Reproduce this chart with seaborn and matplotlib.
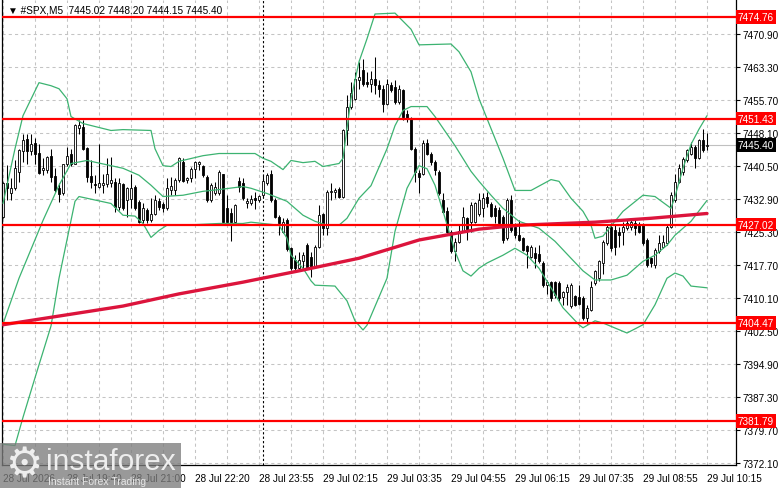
import numpy as np
import pandas as pd
import matplotlib
matplotlib.use('Agg')
import matplotlib.pyplot as plt
import matplotlib.transforms as mtransforms
from matplotlib.patches import Rectangle
import seaborn as sns

# =========================================
# Data (#SPX, M5)
# =========================================
opens = [7428.7, 7436.5, 7434.2, 7435.4, 7439.2, 7443.9, 7446.7, 7443.9, 7445.9, 7443.6,
         7439.5, 7439.6, 7442.9, 7438.3, 7435.5, 7434.2, 7441.1, 7443.4, 7441.1, 7449.3,
         7449.5, 7444.7, 7438.3, 7436.4, 7435.8, 7436.1, 7436.3, 7436.5, 7436.9, 7431.2,
         7436.3, 7432.7, 7432.9, 7435.8, 7432.2, 7428.1, 7430.4, 7428.1, 7429.4, 7432.5,
         7431.7, 7430.8, 7434.9, 7435.0, 7437.3, 7441.5, 7437.3, 7437.7, 7439.8, 7441.1,
         7440.6, 7438.0, 7432.7, 7434.2, 7434.2, 7438.6, 7430.8, 7429.6, 7427.7, 7437.0,
         7436.5, 7432.0, 7432.1, 7433.1, 7432.7, 7433.8, 7436.5, 7438.6, 7432.8, 7428.9,
         7425.4, 7428.1, 7421.6, 7419.0, 7417.0, 7418.6, 7422.4, 7419.7, 7417.4, 7422.0,
         7429.4, 7426.2, 7434.5, 7434.6, 7435.2, 7433.5, 7448.7, 7454.1, 7456.0, 7460.4,
         7462.5, 7459.8, 7459.4, 7460.6, 7459.1, 7458.3, 7454.9, 7459.1, 7458.7, 7455.2,
         7457.9, 7452.6, 7451.4, 7444.5, 7439.0, 7438.6, 7445.9, 7443.4, 7441.5, 7439.2,
         7432.7, 7430.2, 7425.4, 7420.9, 7423.0, 7425.6, 7428.5, 7427.6, 7427.7, 7429.5,
         7430.8, 7433.3, 7431.7, 7430.8, 7430.4, 7428.9, 7423.9, 7432.7, 7426.6, 7424.7,
         7423.9, 7422.2, 7419.7, 7420.5, 7420.3, 7418.2, 7413.2, 7413.8, 7413.8, 7413.6,
         7410.3, 7411.5, 7408.3, 7410.5, 7410.3, 7410.2, 7405.6, 7407.5, 7413.6, 7414.7,
         7418.2, 7422.8, 7426.6, 7425.8, 7425.4, 7425.4, 7426.2, 7426.6, 7427.4, 7427.1,
         7427.0, 7423.5, 7419.3, 7417.8, 7420.9, 7422.0, 7422.8, 7426.6, 7432.7, 7436.9,
         7439.2, 7441.9, 7443.4, 7444.9, 7442.4, 7446.5, 7445.02]
highs = [7436.9, 7440.7, 7437.7, 7441.9, 7444.5, 7447.8, 7448.0, 7447.8, 7447.0, 7445.7,
         7442.4, 7442.9, 7444.5, 7440.0, 7436.5, 7441.1, 7444.9, 7444.4, 7450.3, 7451.0,
         7451.0, 7444.9, 7441.9, 7438.4, 7445.7, 7438.8, 7442.3, 7442.6, 7437.7, 7437.7,
         7436.5, 7435.8, 7438.8, 7436.1, 7432.7, 7431.9, 7430.8, 7433.1, 7433.8, 7433.1,
         7432.3, 7437.7, 7438.0, 7437.7, 7442.6, 7442.3, 7438.0, 7440.3, 7441.6, 7441.6,
         7440.7, 7438.4, 7436.5, 7436.9, 7439.6, 7438.8, 7433.8, 7430.8, 7431.7, 7438.0,
         7437.7, 7433.1, 7433.8, 7434.6, 7433.8, 7438.4, 7439.0, 7439.6, 7433.1, 7429.3,
         7428.5, 7428.5, 7422.0, 7420.1, 7420.8, 7420.8, 7422.8, 7420.8, 7422.4, 7431.6,
         7429.6, 7435.0, 7436.5, 7435.4, 7435.8, 7449.1, 7456.8, 7459.8, 7462.1, 7464.4,
         7465.2, 7462.1, 7462.3, 7465.5, 7460.2, 7459.1, 7460.6, 7459.8, 7460.2, 7459.1,
         7458.3, 7453.3, 7451.8, 7444.9, 7439.6, 7446.4, 7446.8, 7443.8, 7441.9, 7439.6,
         7434.2, 7431.2, 7425.8, 7423.9, 7426.9, 7431.2, 7428.9, 7432.3, 7432.3, 7434.2,
         7434.2, 7434.5, 7432.3, 7431.5, 7431.2, 7429.3, 7433.1, 7433.8, 7427.3, 7428.1,
         7424.3, 7422.4, 7422.4, 7422.0, 7422.4, 7418.6, 7414.4, 7414.0, 7414.0, 7414.0,
         7411.7, 7413.4, 7413.6, 7410.9, 7413.2, 7410.5, 7408.6, 7414.0, 7416.7, 7419.0,
         7423.5, 7427.0, 7427.4, 7427.0, 7426.6, 7427.7, 7428.1, 7428.1, 7428.5, 7427.7,
         7427.4, 7423.9, 7419.7, 7421.6, 7424.7, 7424.7, 7427.0, 7434.6, 7438.8, 7441.1,
         7442.6, 7444.5, 7446.1, 7445.3, 7446.8, 7449.1, 7448.20]
lows = [7428.5, 7432.7, 7432.7, 7435.0, 7436.9, 7441.5, 7441.1, 7443.0, 7441.1, 7438.8,
        7438.4, 7439.0, 7436.9, 7434.6, 7432.3, 7433.9, 7440.6, 7440.6, 7440.9, 7448.0,
        7444.2, 7436.9, 7435.4, 7434.2, 7435.4, 7434.2, 7435.8, 7435.8, 7430.0, 7430.4,
        7430.4, 7428.9, 7430.8, 7430.4, 7427.3, 7427.3, 7427.3, 7427.7, 7429.3, 7430.4,
        7430.0, 7430.4, 7433.8, 7433.8, 7436.9, 7436.9, 7436.5, 7436.9, 7437.7, 7439.6,
        7438.0, 7432.3, 7432.3, 7433.8, 7433.8, 7427.3, 7427.3, 7423.3, 7427.3, 7434.6,
        7432.7, 7430.8, 7431.5, 7430.6, 7432.3, 7433.5, 7436.1, 7432.3, 7428.5, 7424.7,
        7425.0, 7420.9, 7416.6, 7416.6, 7416.6, 7417.0, 7417.0, 7414.9, 7417.0, 7421.6,
        7424.7, 7424.7, 7432.7, 7433.1, 7433.1, 7433.1, 7445.3, 7453.7, 7455.6, 7458.3,
        7459.0, 7458.7, 7457.5, 7457.1, 7456.4, 7452.9, 7454.5, 7457.5, 7454.9, 7454.9,
        7451.0, 7450.6, 7444.2, 7436.9, 7434.2, 7438.4, 7443.0, 7440.7, 7438.4, 7433.8,
        7429.6, 7425.0, 7420.5, 7418.6, 7422.8, 7425.4, 7423.5, 7425.4, 7427.3, 7429.0,
        7428.9, 7431.2, 7428.9, 7427.3, 7427.0, 7422.8, 7423.5, 7425.4, 7423.9, 7423.2,
        7420.9, 7417.0, 7419.3, 7417.0, 7418.2, 7412.8, 7411.0, 7409.4, 7410.2, 7409.4,
        7408.6, 7408.6, 7407.9, 7408.3, 7408.6, 7405.2, 7404.1, 7407.1, 7413.2, 7414.0,
        7415.7, 7422.4, 7420.9, 7420.1, 7422.0, 7422.4, 7425.8, 7425.8, 7424.7, 7425.0,
        7422.4, 7417.4, 7417.4, 7417.0, 7420.5, 7421.6, 7422.4, 7426.2, 7432.3, 7436.5,
        7438.4, 7441.5, 7443.0, 7440.0, 7442.2, 7443.8, 7444.15]
closes = [7436.5, 7435.4, 7435.4, 7440.0, 7444.2, 7446.5, 7443.9, 7445.7, 7443.4, 7439.0,
          7440.1, 7442.6, 7438.1, 7435.0, 7434.0, 7440.9, 7442.9, 7440.9, 7449.9, 7449.9,
          7444.5, 7438.1, 7436.8, 7436.1, 7436.7, 7436.5, 7438.8, 7437.3, 7431.2, 7436.7,
          7430.8, 7435.4, 7435.5, 7430.8, 7427.7, 7430.8, 7428.1, 7429.4, 7432.7, 7431.2,
          7430.8, 7435.4, 7435.9, 7437.3, 7442.3, 7437.1, 7437.8, 7439.8, 7441.5, 7441.5,
          7438.4, 7432.7, 7436.1, 7435.8, 7439.2, 7427.7, 7427.7, 7427.7, 7431.5, 7435.7,
          7433.1, 7432.5, 7432.9, 7432.7, 7433.7, 7437.0, 7438.4, 7432.7, 7428.9, 7427.3,
          7427.6, 7421.5, 7417.0, 7417.0, 7419.0, 7420.1, 7417.4, 7417.4, 7422.0, 7429.3,
          7426.2, 7434.6, 7434.8, 7434.9, 7433.5, 7448.7, 7454.1, 7457.4, 7460.6, 7461.0,
          7459.4, 7459.4, 7460.6, 7459.1, 7458.3, 7454.9, 7459.4, 7457.9, 7455.2, 7458.3,
          7451.8, 7451.4, 7444.5, 7439.2, 7438.0, 7445.9, 7443.4, 7441.5, 7439.6, 7434.2,
          7430.0, 7425.4, 7420.9, 7423.0, 7425.6, 7428.9, 7425.8, 7431.5, 7432.1, 7432.8,
          7433.2, 7432.0, 7429.1, 7429.1, 7427.3, 7423.5, 7432.7, 7425.8, 7424.7, 7423.5,
          7421.2, 7421.0, 7422.0, 7419.3, 7418.6, 7413.1, 7413.8, 7410.2, 7410.9, 7410.2,
          7411.5, 7412.6, 7413.2, 7408.6, 7408.8, 7405.6, 7407.9, 7412.8, 7416.4, 7418.6,
          7423.1, 7426.6, 7421.6, 7422.0, 7424.7, 7426.6, 7427.4, 7427.7, 7426.2, 7425.4,
          7422.8, 7417.8, 7418.2, 7421.2, 7422.8, 7423.1, 7426.6, 7433.8, 7436.9, 7440.0,
          7442.2, 7444.2, 7444.9, 7442.4, 7446.5, 7444.2, 7445.40]

# Bollinger bands at a set of bars
upper_idx = [0, 3, 5, 9, 12, 14, 16, 17, 20, 27, 30, 37, 38, 40, 42, 44, 50, 54, 60, 63,
             65, 67, 70, 72, 75, 78, 80, 84, 85, 87, 89, 91, 93, 98, 102, 104, 112, 114,
             117, 119, 125, 128, 132, 137, 139, 142, 145, 147, 148, 150, 155, 160, 163,
             167, 168, 170, 172, 174, 176]
upper_val = [7431.9, 7444.5, 7452.1, 7459.7, 7459.0, 7458.3, 7456.0, 7451.9, 7450.3, 7448.7,
             7448.9, 7448.7, 7444.5, 7440.6, 7440.4, 7441.6, 7442.9, 7443.4, 7443.4, 7443.4,
             7442.3, 7441.6, 7439.7, 7441.8, 7441.3, 7441.6, 7440.4, 7441.1, 7442.3, 7456.0,
             7464.5, 7469.8, 7475.5, 7475.7, 7472.0, 7468.4, 7468.6, 7466.8, 7462.2, 7456.0,
             7442.3, 7434.9, 7434.9, 7437.4, 7437.0, 7433.1, 7430.1, 7426.9, 7423.9, 7424.4,
             7430.1, 7433.8, 7433.5, 7430.8, 7433.5, 7440.0, 7445.5, 7449.0, 7452.1]
middle_idx = [0, 4, 10, 14, 17, 21, 27, 30, 34, 37, 40, 45, 50, 54, 60, 62, 66, 71, 75, 78,
              81, 84, 86, 89, 92, 96, 98, 100, 102, 106, 108, 113, 117, 119, 122, 125, 129,
              134, 138, 142, 145, 148, 152, 156, 160, 163, 166, 168, 172, 176]
middle_val = [7404.2, 7414.7, 7428.0, 7436.1, 7441.1, 7441.8, 7440.6, 7440.0, 7438.4, 7436.1,
              7433.5, 7433.8, 7434.7, 7435.1, 7435.8, 7435.4, 7434.2, 7432.4, 7429.2, 7427.8,
              7426.9, 7426.9, 7428.5, 7433.1, 7436.0, 7444.5, 7449.8, 7453.3, 7454.2, 7454.2,
              7451.9, 7445.2, 7439.3, 7437.0, 7433.8, 7430.8, 7427.8, 7426.2, 7423.2, 7419.3,
              7416.4, 7414.3, 7414.3, 7415.4, 7418.6, 7420.0, 7422.3, 7424.6, 7427.8, 7432.6]
lower_idx = [0, 3, 5, 8, 12, 14, 18, 19, 27, 30, 33, 35, 37, 39, 41, 45, 54, 60, 62, 69,
             71, 72, 75, 77, 78, 83, 86, 88, 90, 91, 96, 98, 101, 104, 106, 108, 110, 113,
             115, 117, 119, 121, 125, 128, 131, 134, 137, 140, 144, 145, 148, 150, 156,
             160, 163, 166, 168, 170, 172, 176]
lower_val = [7376.5, 7376.2, 7382.7, 7391.8, 7403.7, 7414.7, 7432.4, 7433.5, 7431.9, 7429.2,
             7429.0, 7427.3, 7424.1, 7425.7, 7426.9, 7426.9, 7427.3, 7427.3, 7427.6, 7426.9,
             7423.9, 7420.0, 7417.0, 7414.1, 7413.1, 7412.9, 7409.5, 7404.9, 7402.8, 7403.9,
             7414.7, 7425.5, 7435.4, 7440.6, 7439.9, 7436.1, 7430.1, 7420.9, 7416.4, 7415.2,
             7417.0, 7418.2, 7420.0, 7421.6, 7420.0, 7417.0, 7412.5, 7407.9, 7404.0, 7403.3,
             7404.9, 7404.4, 7402.1, 7404.0, 7408.6, 7414.7, 7415.9, 7415.2, 7412.9, 7412.5]

# Slow moving average (red)
ma_idx = [0, 14, 30, 44, 60, 74, 89, 104, 119, 129, 148, 162, 176]
ma_val = [7404.0, 7406.0, 7408.3, 7411.1, 7413.8, 7416.4, 7419.3, 7423.5, 7426.0, 7426.9,
          7427.6, 7428.5, 7429.6]

levels = [7474.76, 7451.43, 7427.02, 7404.47, 7381.79]
price_ticks = [7470.90, 7463.30, 7455.70, 7448.10, 7440.50, 7432.90, 7425.30, 7417.70,
               7410.10, 7402.50, 7394.90, 7387.30, 7379.70, 7372.10]
time_idx = [0, 16, 32, 48, 64, 80, 96, 112, 128, 144, 160, 176]
time_labels = ['28 Jul 2026', '28 Jul 19:40', '28 Jul 21:00', '28 Jul 22:20', '28 Jul 23:55',
               '29 Jul 02:15', '29 Jul 03:35', '29 Jul 04:55', '29 Jul 06:15', '29 Jul 07:35',
               '29 Jul 08:55', '29 Jul 10:15']
grid_idx = [8 * k for k in range(23)]
separator_idx = 65

df = pd.DataFrame({'open': opens, 'high': highs, 'low': lows, 'close': closes})
df['bar'] = np.arange(len(df))

# =========================================
# Plot
# =========================================
sns.set_style('white')
plt.rcParams['font.family'] = ['Liberation Sans', 'DejaVu Sans']

fig = plt.figure(figsize=(7.81, 4.89), dpi=100)
ax = fig.add_axes([2 / 781, 23 / 489, 734 / 781, 465 / 489])

grid_kw = dict(color='#c4c4c4', linewidth=0.75, linestyle=(0, (3, 3)), zorder=0.5)
for p in price_ticks:
    ax.axhline(p, **grid_kw)
for g in grid_idx:
    ax.axvline(g, **grid_kw)
ax.axvline(separator_idx, color='black', linewidth=0.8, linestyle=(0, (2, 2)), zorder=0.6)

# current price line
ax.axhline(closes[-1], color='#c0c0c0', linewidth=0.8, zorder=0.7)

# candles
ax.vlines(df['bar'], df['low'], df['high'], color='black', linewidth=0.75, zorder=2)
bull = df['close'] >= df['open']
body_lo = df[['open', 'close']].min(axis=1)
body_h = (df['close'] - df['open']).abs()
ax.bar(df['bar'], body_h, bottom=body_lo, width=0.62,
       color=np.where(bull, 'white', 'black'), edgecolor='black', linewidth=0.6, zorder=2.1)

# bollinger bands + moving average
band_color = '#3cb371'
sns.lineplot(x=upper_idx, y=upper_val, ax=ax, color=band_color, linewidth=0.9, zorder=3)
sns.lineplot(x=middle_idx, y=middle_val, ax=ax, color=band_color, linewidth=0.9, zorder=3)
sns.lineplot(x=lower_idx, y=lower_val, ax=ax, color=band_color, linewidth=0.9, zorder=3)
sns.lineplot(x=ma_idx, y=ma_val, ax=ax, color='#dc143c', linewidth=2.4, zorder=4)

# horizontal levels
trans = mtransforms.blended_transform_factory(ax.transAxes, ax.transData)
for lv in levels:
    ax.axhline(lv, color='#ff0000', linewidth=1.6, zorder=5)
    ax.text(1 + 2 / 734, lv, f'{lv:.2f}', transform=trans, color='white', fontsize=7.2,
            ha='left', va='center', clip_on=False, zorder=10,
            bbox=dict(facecolor='#ff0000', edgecolor='none', boxstyle='square,pad=0.18'))
ax.text(1 + 2 / 734, closes[-1], f'{closes[-1]:.2f}', transform=trans, color='white',
        fontsize=7.2, ha='left', va='center', clip_on=False, zorder=10,
        bbox=dict(facecolor='black', edgecolor='none', boxstyle='square,pad=0.18'))

ax.set_xlim(-0.25, 183.25)
ax.set_ylim(7371.73, 7478.72)

ax.yaxis.tick_right()
ax.set_yticks(price_ticks, labels=[f'{p:.2f}' for p in price_ticks])
ax.set_xticks(time_idx, labels=time_labels)
plt.setp(ax.get_xticklabels(), ha='left')
ax.tick_params(axis='y', length=3, width=0.8, pad=2, labelsize=7.2, colors='black')
ax.tick_params(axis='x', length=4, width=0.8, pad=2, labelsize=7.2, colors='black')
ax.set_xlabel('')
ax.set_ylabel('')
for side in ['left', 'right', 'bottom']:
    ax.spines[side].set_color('black')
    ax.spines[side].set_linewidth(0.9)
ax.spines['top'].set_visible(False)

ax.text(6 / 734, 1 - 9 / 465,
        f'\u25bc #SPX,M5  {opens[-1]:.2f} {highs[-1]:.2f} {lows[-1]:.2f} {closes[-1]:.2f}',
        transform=ax.transAxes, fontsize=7.2, ha='left', va='center', color='black')

# watermark (drawn over the lower-left corner, as in the original)
wax = fig.add_axes([0, 0, 181 / 781, 45 / 489])
wax.axis('off')
wax.add_patch(Rectangle((0, 0), 1, 1, transform=wax.transAxes, facecolor='#7d7d7d',
                        alpha=0.78, edgecolor='none'))
wax.text(0.13, 0.52, '\u2699', fontsize=30, color='#eeeeee', ha='center', va='center',
         family='DejaVu Sans')
wax.text(0.255, 0.42, 'instaforex', fontsize=21.5, color='#eeeeee', ha='left', va='baseline')
wax.text(0.265, 0.09, 'Instant Forex Trading', fontsize=7.5, color='#e6e6e6', ha='left',
         va='baseline')

fig.savefig('out.png', dpi=100)
